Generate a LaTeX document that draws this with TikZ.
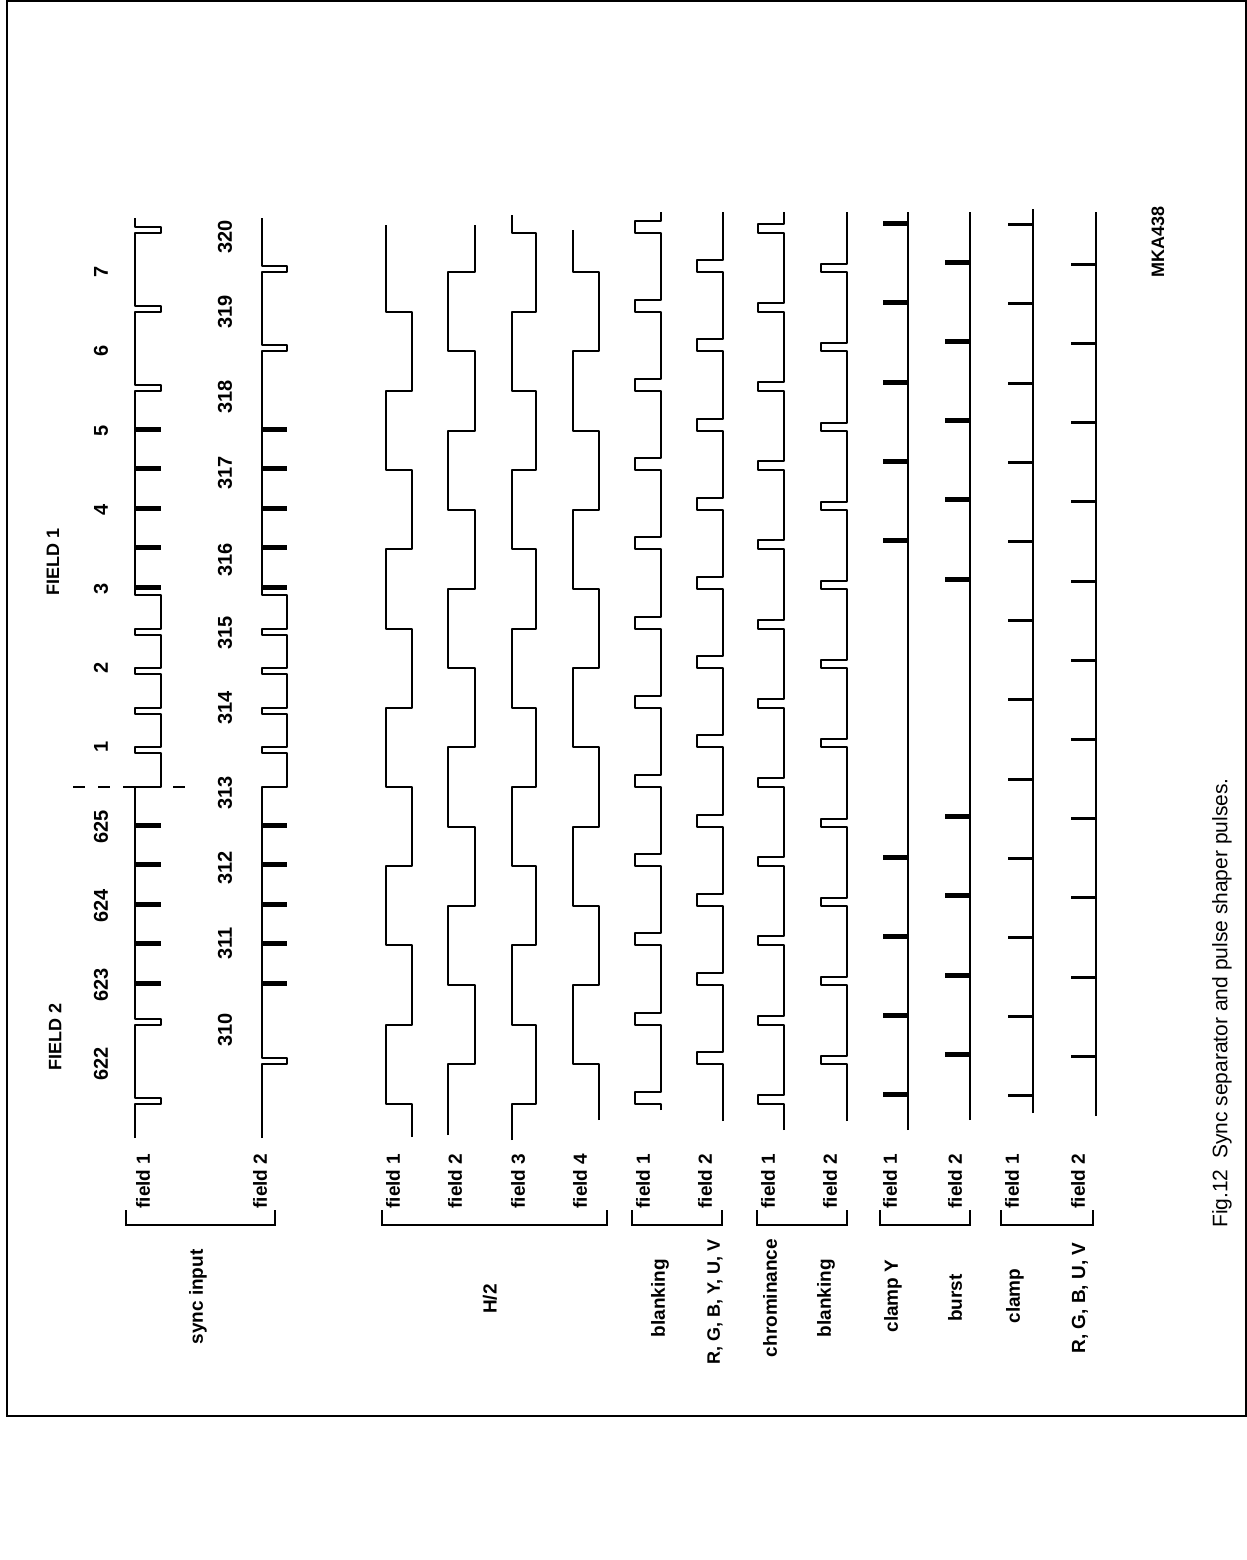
\documentclass[tikz,border=0pt]{standalone}
\usepackage{fontspec}
\setmainfont{Liberation Sans}
\tikzset{
  sig/.style={line width=1pt, line join=round},
  brk/.style={line width=1pt},
  lbl/.style={rotate=90, inner sep=1pt, font=\fontsize{9.5}{11}\selectfont\bfseries},
  hdr/.style={rotate=90, inner sep=1pt, font=\fontsize{9}{11}\selectfont\bfseries},
  num/.style={rotate=90, inner sep=1pt, font=\fontsize{10}{12}\selectfont\bfseries},
  figcap/.style={rotate=90, inner sep=1pt, font=\fontsize{10.5}{12}\selectfont}
}
% time axis: half-line t -> pixel row
\newcommand{\tpos}[1]{787-39.6*(#1)}
% line sync notch (path piece)
\newcommand{\hsy}[3]{-- (#1,{\tpos{#3}}) -- (#1+#2,{\tpos{#3}}) -- (#1+#2,{\tpos{#3}-6}) -- (#1,{\tpos{#3}-6})}
% sync input trace: x, depth, line syncs before, line syncs after
\newcommand{\syncin}[4]{%
  \draw[sig] (#1,1138)
    \foreach \t in {#3}{\hsy{#1}{#2}{\t}}
    -- (#1,{\tpos{0}}) -- (#1+#2,{\tpos{0}})
    \foreach \t in {1,...,4}{-- (#1+#2,{\tpos{\t}+6}) -- (#1,{\tpos{\t}+6}) -- (#1,{\tpos{\t}}) -- (#1+#2,{\tpos{\t}})}
    -- (#1+#2,{\tpos{5}+6}) -- (#1,{\tpos{5}+6})
    \foreach \t in {#4}{\hsy{#1}{#2}{\t}}
    -- (#1,218);
  % equalising pulses
  \foreach \t in {-5,...,-1} \draw[line width=2.5pt] (#1,{\tpos{\t}-1.5}) -- ++(#2,0);
  \foreach \t in {5,...,9} \draw[line width=2.5pt] (#1,{\tpos{\t}-1.5}) -- ++(#2,0);}
% blanking trace: x, depth, length, list, bottom, top
\newcommand{\blk}[6]{%
  \draw[sig] (#1,#5)
    \foreach \t in {#4}{-- (#1,{\tpos{\t}}) -- (#1-#2,{\tpos{\t}}) -- (#1-#2,{\tpos{\t}-#3}) -- (#1,{\tpos{\t}-#3})}
    -- (#1,#6);}
% clamp trace: x, stub width, offset, list, bottom, top
\newcommand{\clp}[6]{%
  \draw[sig] (#1,#5) -- (#1,#6);
  \foreach \t in {#4} \draw[line width=#2] (#1,{\tpos{\t}-#3}) -- ++(-25,0);}

\begin{document}
\begin{tikzpicture}[x=0.5pt,y=-0.5pt]
\useasboundingbox (0,0) rectangle (1247,1560);
\draw[line width=0.6pt] (7,1) rectangle (1246,1416);

% sync input
\syncin{135}{26}{-8,-6}{10,12,14}
\syncin{262}{25}{-7}{11,13}
\draw[sig, dash pattern=on 6pt off 6.5pt] (73,{\tpos{0}}) -- (190,{\tpos{0}});

% H/2
\draw[sig] (412,1137) \foreach \t in {-8,-4,...,8}{-- (412,{\tpos{\t}}) -- (386,{\tpos{\t}}) -- (386,{\tpos{\t+2}}) -- (412,{\tpos{\t+2}})}
  -- (412,{\tpos{12}}) -- (386,{\tpos{12}}) -- (386,225);
\draw[sig] (448,1135) \foreach \t in {-7,-3,...,9}{-- (448,{\tpos{\t}}) -- (475,{\tpos{\t}}) -- (475,{\tpos{\t+2}}) -- (448,{\tpos{\t+2}})}
  -- (448,{\tpos{13}}) -- (475,{\tpos{13}}) -- (475,225);
\draw[sig] (512,1140) \foreach \t in {-8,-4,...,12}{-- (512,{\tpos{\t}}) -- (536,{\tpos{\t}}) -- (536,{\tpos{\t+2}}) -- (512,{\tpos{\t+2}})}
  -- (512,215);
\draw[sig] (599,1120) \foreach \t in {-7,-3,...,9}{-- (599,{\tpos{\t}}) -- (573,{\tpos{\t}}) -- (573,{\tpos{\t+2}}) -- (599,{\tpos{\t+2}})}
  -- (599,{\tpos{13}}) -- (573,{\tpos{13}}) -- (573,230);

% blanking and chrominance
\blk{661}{26}{12}{-8,-6,...,14}{1110}{212}
\blk{723}{26}{12}{-7,-5,...,13}{1121}{212}
\blk{784}{26}{9}{-8,-6,...,14}{1130}{212}
\blk{847}{26}{8}{-7,-5,...,13}{1121}{212}

% clamp and burst
\clp{908}{2.5pt}{9}{-8,-6,-4,-2,6,8,10,12,14}{1130}{212}
\clp{970}{2.5pt}{10}{-7,-5,-3,-1,5,7,9,11,13}{1120}{212}
\clp{1033}{1.5pt}{8}{-8,-6,...,14}{1113}{209}
\clp{1096}{1.5pt}{8}{-7,-5,...,13}{1116}{212}

% line numbers
\node[hdr] (fld2) at (55,1037) {FIELD 2};
\node[hdr] (fld1) at (53,562) {FIELD 1};
\foreach \n/\t in {622/-7,623/-5,624/-3,625/-1,1/1,2/3,3/5,4/7,5/9,6/11,7/13}
  \node[num] (ln\n) at (101,{\tpos{\t}}) {\n};
\foreach \n/\yy in {310/1030,311/943,312/868,313/793,314/708,315/633,316/560,317/473,318/397,319/312,320/237}
  \node[num] (ln\n) at (225,\yy) {\n};

% field labels and brackets
\foreach \nm/\xx/\f in {sf1/143/1,sf2/260/2,hf1/393/1,hf2/455/2,hf3/518/3,hf4/580/4,bf1/643/1,bf2/705/2,cf1/768/1,cf2/830/2,yf1/890/1,yf2/955/2,kf1/1012/1,kf2/1078/2}
  \node[lbl] (\nm) at (\xx,1181) {field \f};
\foreach \xa/\xb in {126/275,382/607,632/722,757/847,880/970,1001/1093}
  \draw[brk] (\xa,1210) |- (\xb,1225) -- (\xb,1210);

\node[lbl] (sync) at (198,1297) {sync input};
\node[lbl] (half) at (490,1299) {H/2};
\node[lbl] (blank) at (660,1298) {blanking};
\node[lbl, font=\fontsize{9}{11}\selectfont\bfseries] (rgbyuv) at (715,1302) {R, G, B, Y, U, V};
\node[lbl] (chroma) at (770,1298) {chrominance};
\node[lbl] (blank2) at (826,1298) {blanking};
\node[lbl] (clampy) at (893,1296) {clamp Y};
\node[lbl] (burst) at (955,1298) {burst};
\node[lbl] (clamp) at (1015,1296) {clamp};
\node[lbl] (rgbuv) at (1080,1298) {R, G, B, U, V};

\node[hdr] (mka) at (1158,242) {MKA438};
\node[figcap] (caption) at (1222,1003) {Fig.12\enspace Sync separator and pulse shaper pulses.};
\end{tikzpicture}
\end{document}
